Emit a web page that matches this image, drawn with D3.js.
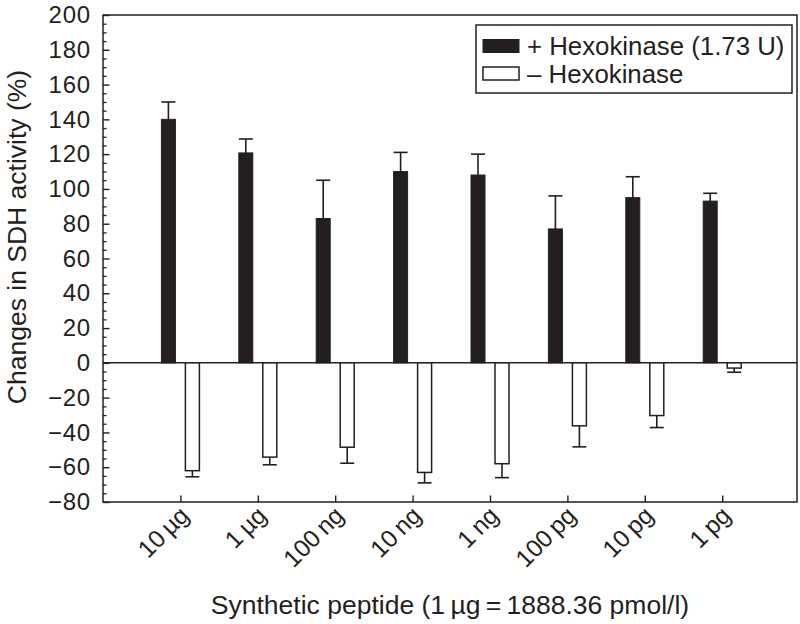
<!DOCTYPE html>
<html>
<head>
<meta charset="utf-8">
<script src="https://cdn.jsdelivr.net/npm/d3@7/dist/d3.min.js"></script>
<style>
  html, body { margin: 0; padding: 0; background: #fff; }
  svg text { font-family: "Liberation Sans", Arial, Helvetica, sans-serif; fill: #231f20; }
</style>
</head>
<body>
<svg id="chart" width="800" height="624"></svg>
<script>
// ---- data ----
const categories = ["10\u2009\u00b5g", "1\u2009\u00b5g", "100\u2009ng", "10\u2009ng", "1\u2009ng", "100\u2009pg", "10\u2009pg", "1\u2009pg"];
const withHexValues = [140, 120.7, 83, 110, 108, 77, 95, 93];
const withHexErrTop = [150, 128.7, 105, 121, 120, 96, 107, 97.5];
const withoutHexValues = [-62, -54.2, -48.5, -63, -58, -36.2, -30.3, -3];
const withoutHexErrBottom = [-65.5, -58.6, -57.7, -69, -66, -48.3, -37.2, -5.4];
const yTicks = [-80, -60, -40, -20, 0, 20, 40, 60, 80, 100, 120, 140, 160, 180, 200];
const legendLabels = ["+ Hexokinase (1.73 U)", "\u2013 Hexokinase"];
const xTitle = "Synthetic peptide (1\u2009\u00b5g\u2009=\u20091888.36 pmol/l)";
const yTitle = "Changes in SDH activity (%)";

// ---- layout ----
const ink = "#231f20";
const pLeft = 103, pRight = 797, pTop = 15, pBottom = 502;
const svg = d3.select("#chart");

const y = d3.scaleLinear().domain([-80, 200]).range([pBottom, pTop]);
const x = d3.scalePoint().domain(categories).range([180.4, 722.2]);
const barW = 14, gap = 5, capW = 14;

// minor y ticks
const minor = d3.range(-80, 201, 5).filter(v => v % 20 !== 0);
const gMinor = svg.append("g").attr("transform", `translate(${pLeft},0)`)
  .call(d3.axisLeft(y).tickValues(minor).tickSize(-3.5).tickFormat(""));
gMinor.select(".domain").remove();
gMinor.selectAll("line").attr("stroke", ink).attr("stroke-width", 1.3);

// major y axis
const gY = svg.append("g").attr("transform", `translate(${pLeft},0)`)
  .call(d3.axisLeft(y).tickValues(yTicks).tickSize(-6.5).tickPadding(12));
gY.select(".domain").remove();
gY.selectAll("line").attr("stroke", ink).attr("stroke-width", 1.4);
gY.selectAll("text").attr("font-size", 24).attr("letter-spacing", 0.8)
  .attr("font-family", "Liberation Sans, Arial, sans-serif").attr("fill", ink);

// x axis ticks
const gX = svg.append("g").attr("transform", `translate(0,${pBottom})`)
  .call(d3.axisBottom(x).tickSize(-6.5).tickFormat(""));
gX.select(".domain").remove();
gX.selectAll("line").attr("stroke", ink).attr("stroke-width", 1.4);

// x labels rotated
svg.append("g").selectAll("text").data(categories).join("text")
  .attr("transform", d => `translate(${x(d) + 10},${pBottom + 15}) rotate(-45)`)
  .attr("text-anchor", "end")
  .attr("font-size", 24.5)
  .text(d => d);

// frame
svg.append("rect").attr("x", pLeft).attr("y", pTop).attr("width", pRight - pLeft).attr("height", pBottom - pTop)
  .attr("fill", "none").attr("stroke", ink).attr("stroke-width", 1.5);

// zero line
svg.append("line").attr("x1", pLeft).attr("x2", pRight).attr("y1", y(0)).attr("y2", y(0))
  .attr("stroke", ink).attr("stroke-width", 1.5);

// error bars
const errG = svg.append("g").attr("stroke", ink).attr("stroke-width", 1.6);
categories.forEach((c, i) => {
  const cx = x(c) - gap - barW / 2;
  errG.append("line").attr("x1", cx).attr("x2", cx).attr("y1", y(withHexValues[i])).attr("y2", y(withHexErrTop[i]));
  errG.append("line").attr("x1", cx - capW / 2).attr("x2", cx + capW / 2).attr("y1", y(withHexErrTop[i])).attr("y2", y(withHexErrTop[i]));
  const wx = x(c) + gap + barW / 2;
  errG.append("line").attr("x1", wx).attr("x2", wx).attr("y1", y(withoutHexValues[i])).attr("y2", y(withoutHexErrBottom[i]));
  errG.append("line").attr("x1", wx - capW / 2).attr("x2", wx + capW / 2).attr("y1", y(withoutHexErrBottom[i])).attr("y2", y(withoutHexErrBottom[i]));
});

// bars
svg.append("g").selectAll("rect").data(categories).join("rect")
  .attr("x", d => x(d) - gap - barW)
  .attr("width", barW)
  .attr("y", (d, i) => y(withHexValues[i]))
  .attr("height", (d, i) => y(0) - y(withHexValues[i]))
  .attr("fill", ink).attr("stroke", ink).attr("stroke-width", 1);

svg.append("g").selectAll("rect").data(categories).join("rect")
  .attr("x", d => x(d) + gap)
  .attr("width", barW)
  .attr("y", y(0))
  .attr("height", (d, i) => y(withoutHexValues[i]) - y(0))
  .attr("fill", "#fff").attr("stroke", ink).attr("stroke-width", 1.5);

// legend
const lg = svg.append("g");
lg.append("rect").attr("x", 476).attr("y", 25).attr("width", 316).attr("height", 68)
  .attr("fill", "#fff").attr("stroke", ink).attr("stroke-width", 1.5);
lg.append("rect").attr("x", 483).attr("y", 39.5).attr("width", 36).attr("height", 13)
  .attr("fill", ink).attr("stroke", ink).attr("stroke-width", 1);
lg.append("rect").attr("x", 483).attr("y", 67).attr("width", 36).attr("height", 13)
  .attr("fill", "#fff").attr("stroke", ink).attr("stroke-width", 1.5);
lg.selectAll("text").data(legendLabels).join("text")
  .attr("x", 527).attr("y", (d, i) => 55 + i * 27.5)
  .attr("font-size", 25.8)
  .text(d => d);

// axis titles
svg.append("text").attr("x", 450).attr("y", 614).attr("text-anchor", "middle")
  .attr("font-size", 26.5).text(xTitle);
svg.append("text").attr("transform", "translate(26,237) rotate(-90)").attr("text-anchor", "middle")
  .attr("font-size", 26.5).text(yTitle);
</script>
</body>
</html>
